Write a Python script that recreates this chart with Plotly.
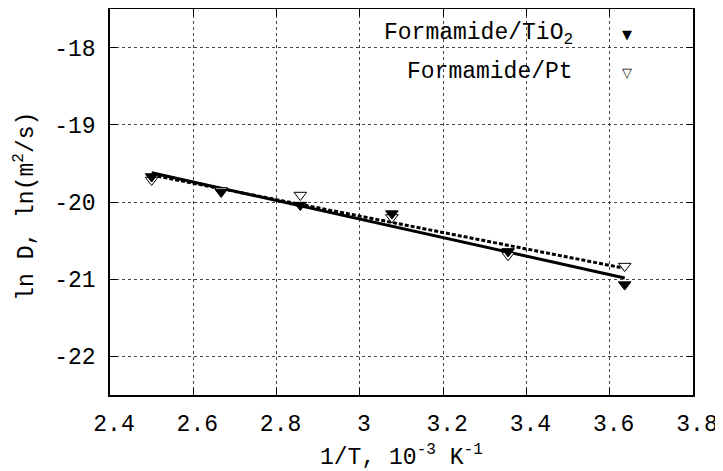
import numpy as np
import plotly.graph_objects as go

# Data (1/T in 10^-3 K^-1, ln D)
inv_T = [2.500, 2.667, 2.857, 3.077, 3.356, 3.636]
lnD_TiO2 = [-19.67, -19.87, -20.04, -20.15, -20.64, -21.07]
lnD_Pt = [-19.715, -19.85, -19.91, -20.20, -20.69, -20.83]
series_names = ["Formamide/TiO<sub>2</sub>", "Formamide/Pt"]
x_ticks = [2.4, 2.6, 2.8, 3.0, 3.2, 3.4, 3.6, 3.8]
x_tick_labels = ["2.4", "2.6", "2.8", "3", "3.2", "3.4", "3.6", "3.8"]
y_ticks = [-18, -19, -20, -21, -22]
x_title = "1/T, 10<sup>-3</sup> K<sup>-1</sup>"
y_title = "ln D, ln(m<sup>2</sup>/s)"

FONT = "Liberation Mono, Courier New, monospace"
FS = 23

x = np.array(inv_T)
xs = np.array([x.min(), x.max()])
fit_ti = np.polyfit(x, lnD_TiO2, 1)
fit_pt = np.polyfit(x, lnD_Pt, 1)

fig = go.Figure()
# fit lines
fig.add_trace(go.Scatter(x=xs, y=np.polyval(fit_ti, xs), mode="lines",
                         line=dict(color="black", width=3), showlegend=False, hoverinfo="skip"))
fig.add_trace(go.Scatter(x=xs, y=np.polyval(fit_pt, xs), mode="lines",
                         line=dict(color="black", width=3, dash="4px,2px"), showlegend=False, hoverinfo="skip"))
# points
fig.add_trace(go.Scatter(x=inv_T, y=lnD_Pt, mode="markers", name=series_names[1],
                         marker=dict(symbol="triangle-down", size=11, color="white",
                                     line=dict(color="black", width=1)), showlegend=False))
fig.add_trace(go.Scatter(x=inv_T, y=lnD_TiO2, mode="markers", name=series_names[0],
                         marker=dict(symbol="triangle-down", size=11, color="black",
                                     line=dict(color="black", width=1)), showlegend=False))

# gnuplot-style key: text then symbol
key_y = [0.935, 0.836]
key_sym = ["▼", "▽"]
for name, ky, sym in zip(series_names, key_y, key_sym):
    fig.add_annotation(xref="paper", yref="paper", x=0.798, y=ky, text=name,
                       showarrow=False, xanchor="right", yanchor="middle",
                       font=dict(family=FONT, size=FS, color="black"))
    fig.add_annotation(xref="paper", yref="paper", x=0.886, y=ky, text=sym,
                       showarrow=False, xanchor="center", yanchor="middle",
                       font=dict(family="DejaVu Sans", size=13, color="black"))

# axis titles
fig.add_annotation(xref="paper", yref="paper", x=0.5, y=-0.157, text=x_title,
                   showarrow=False, xanchor="center", yanchor="middle",
                   font=dict(family=FONT, size=FS, color="black"))
fig.add_annotation(xref="paper", yref="paper", x=-0.146, y=0.49, text=y_title,
                   showarrow=False, xanchor="center", yanchor="middle", textangle=-90,
                   font=dict(family=FONT, size=FS, color="black"))

axis_common = dict(showline=True, linecolor="black", linewidth=1.5, mirror="ticks",
                   ticks="inside", ticklen=7, tickwidth=1, tickcolor="black",
                   showgrid=True, gridcolor="#444444", gridwidth=1, griddash="dot",
                   zeroline=False, automargin=False,
                   tickfont=dict(family=FONT, size=FS, color="black"))

fig.update_xaxes(range=[2.4, 3.8], tickvals=x_ticks, ticktext=x_tick_labels,
                 ticklabelstandoff=7, ticklabelshift=4,
                 **axis_common)
fig.update_yaxes(range=[-22.5, -17.5], tickvals=y_ticks, ticktext=[str(v) for v in y_ticks],
                 ticklabelstandoff=8,
                 **axis_common)

# the page body has an 8px default margin, so the figure is sized/offset to compensate
fig.update_layout(width=715, height=463, margin=dict(l=102, r=30, t=1, b=76),
                  plot_bgcolor="white", paper_bgcolor="white", showlegend=False)

fig.write_html("out.html")
